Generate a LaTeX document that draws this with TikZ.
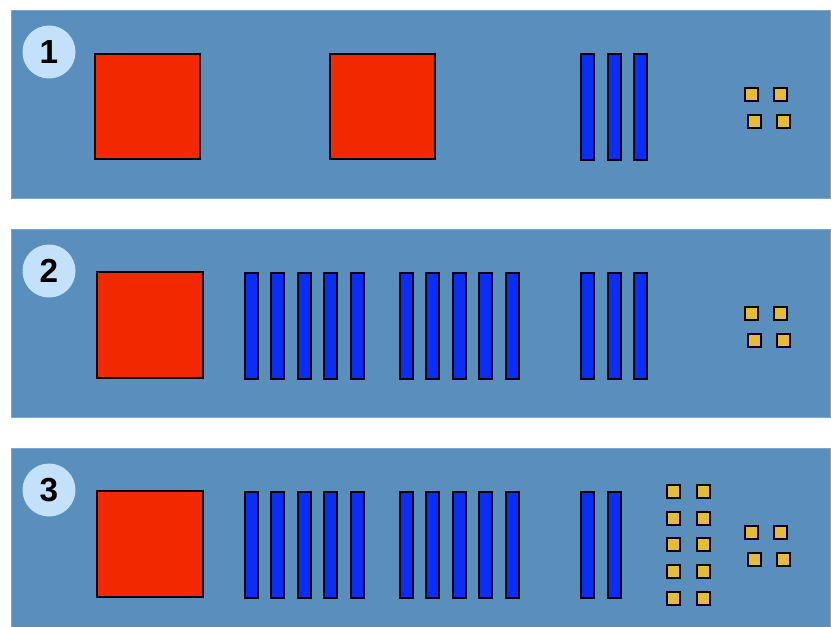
\documentclass[tikz,border=0pt]{standalone}
\usepackage{fontspec}
\setmainfont{Liberation Sans}
\usepackage{xcolor}
\usetikzlibrary{positioning}
\definecolor{panelblue}{HTML}{5A8FBD}
\definecolor{paneledge}{HTML}{7BA6CF}
\definecolor{badgeblue}{HTML}{C4E1FB}
\definecolor{chipred}{HTML}{F22800}
\definecolor{laneblue}{HTML}{0A2EF5}
\definecolor{dotyellow}{HTML}{E5BC3A}

\begin{document}
\begin{tikzpicture}[x=0.75pt, y=-0.75pt,
    panel/.style={rectangle, fill=panelblue, draw=paneledge, line width=0.75pt,
                  minimum width=614.25pt, minimum height=141pt, inner sep=0pt},
    badge/.style={circle, fill=badgeblue, minimum size=39.75pt, inner sep=0pt,
                  font=\fontsize{25}{25}\selectfont\bfseries},
    chip/.style={rectangle, draw, line width=1.5pt, fill=chipred,
                 minimum size=79pt, inner sep=0pt},
    lane/.style={rectangle, draw, line width=1.5pt, fill=laneblue,
                 minimum width=9.75pt, minimum height=79.5pt, inner sep=0pt},
    dot/.style={rectangle, draw, line width=1.5pt, fill=dotyellow,
                minimum size=9.75pt, inner sep=0pt}]
  \clip (0,0) rectangle (831,626);
  \fill[white] (0,0) rectangle (831,626);
  % the three panels, each with its number and the small cluster
  \foreach \p/\dy in {1/0, 2/219, 3/438} {
    \node[panel] (panel\p) at (420.5, 104+\dy) {};
    \node[badge] (badge\p) at (49, 52+\dy) {\p};
    \foreach \i/\x/\y in {a/751.5/94.5, b/780.5/94.5, c/754.5/121.5, d/783.5/121.5}
      \node[dot] (dot\p\i) at (\x, \y+\dy) {};
  }
  % panel 1
  \node[chip] (chip1a) at (147.5, 106.5) {};
  \node[chip] (chip1b) at (382.5, 106.5) {};
  \foreach \i/\x in {1/587, 2/614, 3/640}
    \node[lane] (lane1-\i) at (\x, 107) {};
  % panel 2
  \node[chip] (chip2) at (150, 325) {};
  \foreach \i in {0,...,4} {
    \node[lane] (lane2a-\i) at (251+26.5*\i, 326) {};
    \node[lane] (lane2b-\i) at (406+26.5*\i, 326) {};
  }
  \foreach \i/\x in {1/587, 2/614, 3/640}
    \node[lane] (lane2c-\i) at (\x, 326) {};
  % panel 3
  \node[chip] (chip3) at (150, 544) {};
  \foreach \i in {0,...,4} {
    \node[lane] (lane3a-\i) at (251+26.5*\i, 545) {};
    \node[lane] (lane3b-\i) at (406+26.5*\i, 545) {};
    \node[dot] (dot3l-\i) at (673.5, 491.5+26.7*\i) {};
    \node[dot] (dot3r-\i) at (703.5, 491.5+26.7*\i) {};
  }
  \foreach \i/\x in {1/587, 2/614}
    \node[lane] (lane3c-\i) at (\x, 545) {};
\end{tikzpicture}
\end{document}
